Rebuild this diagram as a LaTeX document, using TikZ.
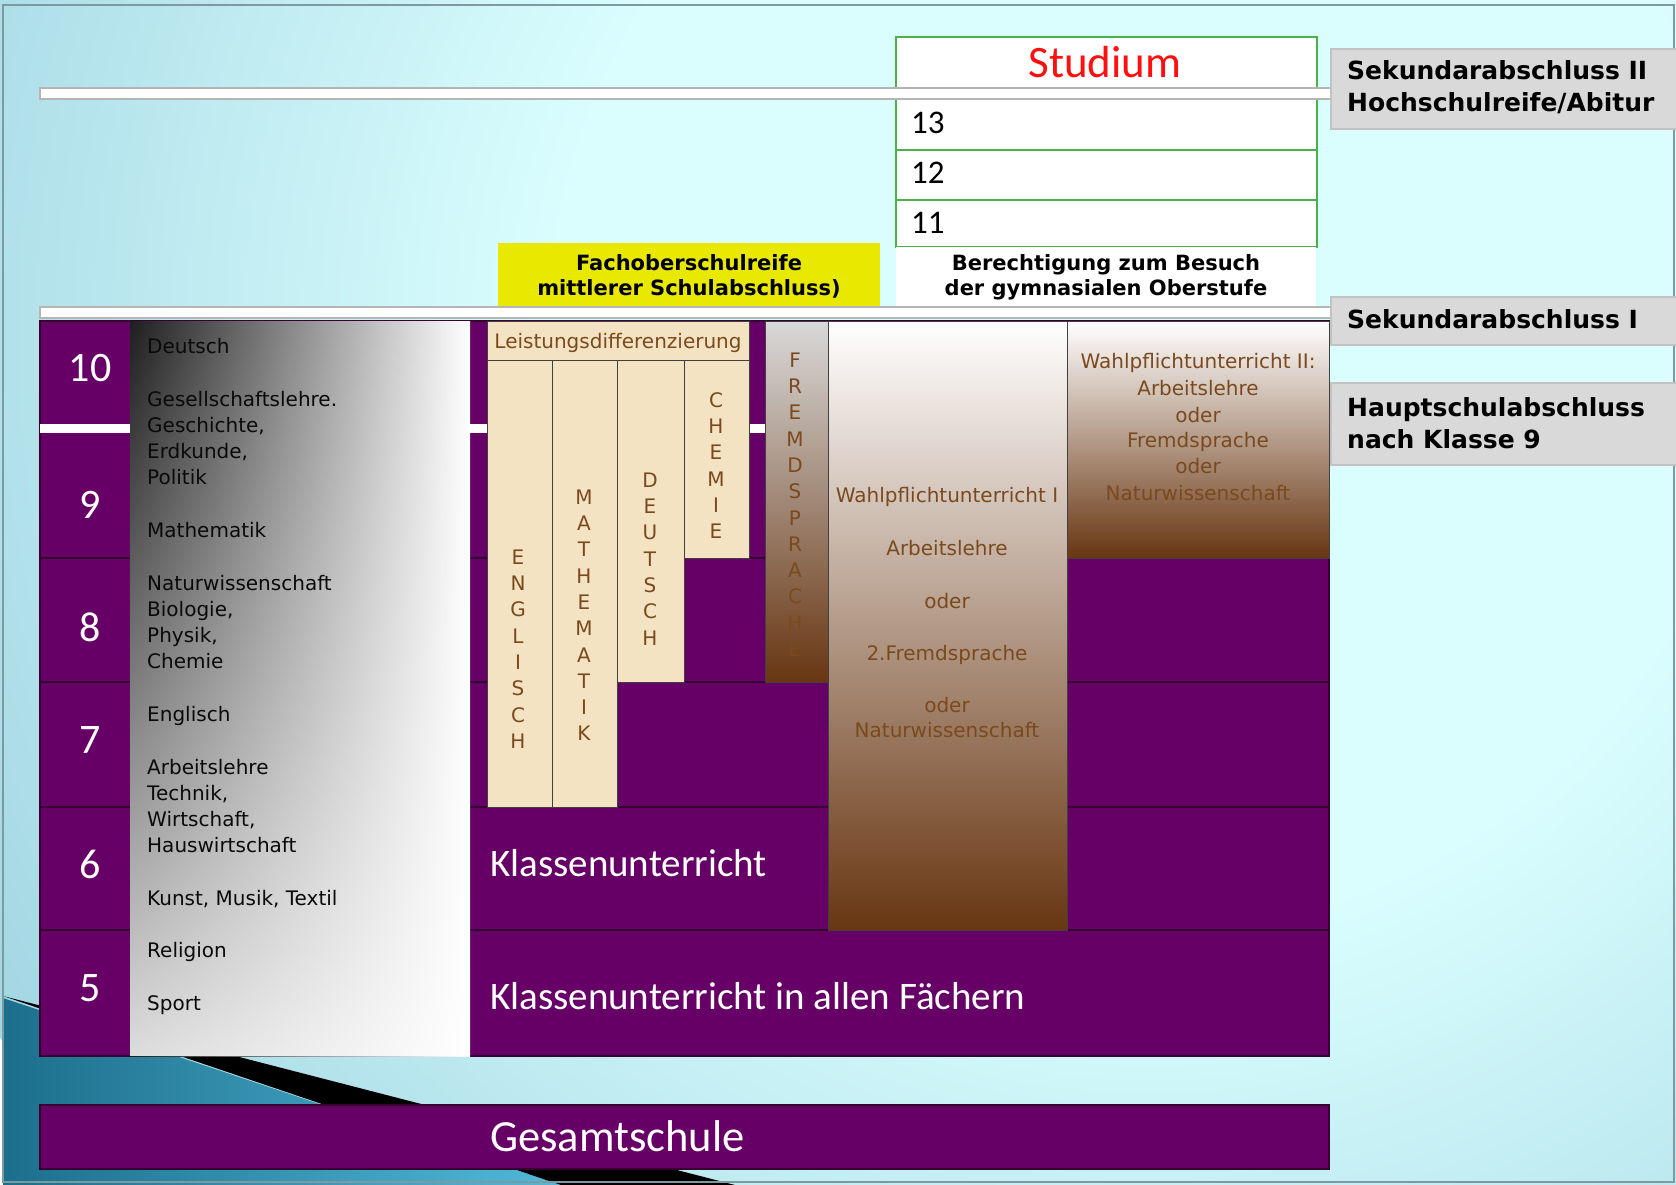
\documentclass[tikz,border=0pt]{standalone}
\usepackage{fontspec}
\setmainfont{DejaVu Sans}
\newfontfamily\calfont{Carlito}
\usetikzlibrary{fadings}
\definecolor{bgin}{HTML}{DAFEFE}
\definecolor{bgout}{HTML}{A2D6E3}
\definecolor{purp}{HTML}{660066}
\definecolor{purpline}{HTML}{35002F}
\definecolor{brownt}{HTML}{7A4A1E}
\definecolor{brownb}{HTML}{683612}
\definecolor{midg}{HTML}{D0C8C8}
\definecolor{beige}{HTML}{F3E3C2}
\definecolor{lblgray}{HTML}{D9D9D9}
\definecolor{lbledge}{HTML}{C2C2C2}
\definecolor{grn}{HTML}{4DB04D}
\definecolor{yel}{HTML}{E8E800}
\definecolor{teala}{HTML}{1C6F8C}
\definecolor{tealb}{HTML}{52B9D9}
\definecolor{framec}{HTML}{7D9AA3}
\definecolor{baredge}{HTML}{B5B5B5}
\definecolor{studred}{HTML}{FF1010}
\definecolor{subjdark}{HTML}{0A0A0A}
\pgfdeclareradialshading{bgshade}{\pgfpoint{0bp}{0bp}}{color(0bp)=(bgin); color(11bp)=(bgin); color(25bp)=(bgout); color(50bp)=(bgout)}
\tikzfading[name=subjfade, top color=transparent!100, bottom color=transparent!15]
\begin{document}
\begin{tikzpicture}[x=1pt,y=-1pt,
  rect/.style={rectangle, inner sep=0pt, outer sep=0pt, anchor=center},
  whitebar/.style={rect, fill=white, draw=baredge, line width=1.5pt},
  lblbox/.style={rect, fill=lblgray, draw=lbledge, line width=1.5pt},
  rowline/.style={draw=purpline, line width=2pt},
  colbox/.style={rect, draw={black!75}, line width=1pt},
  beigebox/.style={colbox, fill=beige},
  subj/.style={anchor=west, font=\fontsize{20pt}{24pt}\selectfont, text=subjdark, inner sep=0pt, text height=15pt, text depth=4pt},
  brownc/.style={anchor=center, font=\fontsize{20pt}{24pt}\selectfont, text=brownt, inner sep=0pt, text height=15pt, text depth=4pt},
  vlet/.style={anchor=center, font=\fontsize{20pt}{24pt}\selectfont, text=brownt, inner sep=0pt},
  num/.style={anchor=center, font=\calfont\fontsize{42pt}{48pt}\selectfont, text=white, inner sep=0pt, text height=26.5pt, text depth=0pt},
  bigw/.style={anchor=west, font=\calfont\fontsize{39pt}{44pt}\selectfont, text=white, inner sep=0pt, text height=29pt, text depth=6pt},
  lbltext/.style={anchor=west, font=\bfseries\fontsize{25pt}{30pt}\selectfont, inner sep=0pt, text height=18.75pt, text depth=5pt},
  boldc/.style={anchor=center, font=\bfseries\fontsize{21pt}{25pt}\selectfont, inner sep=0pt, text height=15.75pt, text depth=4pt},
  rownr/.style={anchor=west, font=\calfont\fontsize{33pt}{38pt}\selectfont, inner sep=0pt, text height=21pt, text depth=0pt}
]
\useasboundingbox (0,0) rectangle (1676,1185);
% background
\begin{scope}
\clip (0,0) rectangle (1676,1185);
\shade[shading=bgshade] (1150,330) circle (1350);
\shade[left color=teala, right color=tealb] (3,998) -- (561,1185) -- (3,1185) -- cycle;
\fill[black] (3,996) -- (735,1185) -- (561,1185) -- cycle;
\end{scope}
\draw[framec, line width=2pt] (3,5) rectangle (1674,1182);

% upper part
\node[rect, fill=white, draw=grn, line width=1.5pt, minimum width=421pt, minimum height=210pt] (studbox) at (1106.5,142) {};
\draw[grn, line width=1.5pt] (896,150) -- (1317,150);
\draw[grn, line width=1.5pt] (896,200) -- (1317,200);
\node[whitebar, minimum width=1291pt, minimum height=11pt] (bar1) at (685.5,93.5) {};
\node[anchor=center, font=\calfont\fontsize{45pt}{50pt}\selectfont, text=studred, inner sep=0pt, text height=29pt, text depth=0pt] (studium) at (1105,63) {Studium};
\node[rownr] (r13) at (911,123) {13};
\node[rownr] (r12) at (911,173) {12};
\node[rownr] (r11) at (911,223) {11};

\node[rect, fill=yel, minimum width=382pt, minimum height=67pt] (yelbox) at (689,276.5) {};
\node[rect, fill=white, minimum width=420pt, minimum height=63pt] (berbox) at (1106,278.5) {};
\node[boldc] (fos1) at (689,265) {Fachoberschulreife};
\node[boldc] (fos2) at (689,290) {mittlerer Schulabschluss)};
\node[boldc] (ber1) at (1106,265) {Berechtigung zum Besuch};
\node[boldc] (ber2) at (1106,290) {der gymnasialen Oberstufe};
\node[whitebar, minimum width=1291pt, minimum height=11pt] (bar2) at (685.5,312.5) {};

% labels
\node[lblbox, minimum width=347pt, minimum height=80pt] (sek2box) at (1504.5,89) {};
\node[lblbox, minimum width=347pt, minimum height=48pt] (sek1box) at (1504.5,321) {};
\node[lblbox, minimum width=347pt, minimum height=82pt] (hauptbox) at (1504.5,424) {};
\node[lbltext] (sek2a) at (1347,73) {Sekundarabschluss II};
\node[lbltext] (sek2b) at (1347,105) {Hochschulreife/Abitur};
\node[lbltext] (sek1) at (1347,322) {Sekundarabschluss I};
\node[lbltext] (haupta) at (1347,410) {Hauptschulabschluss};
\node[lbltext] (hauptb) at (1347,442) {nach Klasse 9};

% grid
\node[rect, fill=purp, draw=purpline, line width=1.5pt, minimum width=1289pt, minimum height=735pt] (grid) at (684.5,688.5) {};
\foreach \yy in {558,682,807,930} \draw[rowline] (40,\yy) -- (1329,\yy);
\node[rect, fill=white, minimum width=1289pt, minimum height=9pt] (bar3) at (684.5,428.5) {};

% subjects column
\node[rect, left color=black!88, middle color=black!42, right color=white, minimum width=340pt, minimum height=735pt] (subjcol) at (300,688.5) {};
\fill[white, path fading=subjfade] (subjcol.north west) rectangle (subjcol.south east);
\node[subj] (s0) at (147,348) {Deutsch};
\node[subj] (s2) at (147,400.6) {Gesellschaftslehre.};
\node[subj] (s3) at (147,426.8) {Geschichte,};
\node[subj] (s4) at (147,453.1) {Erdkunde,};
\node[subj] (s5) at (147,479.4) {Politik};
\node[subj] (s7) at (147,532) {Mathematik};
\node[subj] (s9) at (147,584.5) {Naturwissenschaft};
\node[subj] (s10) at (147,610.8) {Biologie,};
\node[subj] (s11) at (147,637.1) {Physik,};
\node[subj] (s12) at (147,663.4) {Chemie};
\node[subj] (s14) at (147,715.9) {Englisch};
\node[subj] (s16) at (147,768.5) {Arbeitslehre};
\node[subj] (s17) at (147,794.8) {Technik,};
\node[subj] (s18) at (147,821) {Wirtschaft,};
\node[subj] (s19) at (147,847.3) {Hauswirtschaft};
\node[subj] (s21) at (147,899.9) {Kunst, Musik, Textil};
\node[subj] (s23) at (147,952.4) {Religion};
\node[subj] (s25) at (147,1005) {Sport};

% Leistungsdifferenzierung
\node[beigebox, minimum width=262pt, minimum height=39pt] (header) at (618,340.5) {};
\node[brownc] (headtext) at (618,343) {Leistungsdifferenzierung};
\node[beigebox, minimum width=65pt, minimum height=447pt] (engl) at (519.5,583.5) {};
\node[beigebox, minimum width=65pt, minimum height=447pt] (math) at (584.5,583.5) {};
\node[beigebox, minimum width=67pt, minimum height=322pt] (deut) at (650.5,521) {};
\node[beigebox, minimum width=65pt, minimum height=198pt] (chem) at (716.5,459) {};
\foreach \l [count=\i from 0] in {E,N,G,L,I,S,C,H}
  \node[vlet] (en\i) at (518,{557+26.3*\i}) {\l};
\foreach \l [count=\i from 0] in {M,A,T,H,E,M,A,T,I,K}
  \node[vlet] (ma\i) at (584,{497+26.3*\i}) {\l};
\foreach \l [count=\i from 0] in {D,E,U,T,S,C,H}
  \node[vlet] (de\i) at (650,{480+26.3*\i}) {\l};
\foreach \l [count=\i from 0] in {C,H,E,M,I,E}
  \node[vlet] (ch\i) at (716,{400+26.3*\i}) {\l};

% Fremdsprache
\node[colbox, top color={black!15}, bottom color=brownb, minimum width=63pt, minimum height=361pt] (fremd) at (796.5,501.5) {};
\foreach \l [count=\i from 0] in {F,R,E,M,D,S,P,R,A,C,H,E}
  \node[vlet] (fr\i) at (795,{360+26.3*\i}) {\l};

% Wahlpflicht I
\node[colbox, top color=white, middle color=midg, bottom color=brownb, minimum width=239pt, minimum height=609pt] (wahl1) at (947.5,625.5) {};
\node[brownc] (w1a) at (947,497) {Wahlpflichtunterricht I};
\node[brownc] (w1b) at (947,550) {Arbeitslehre};
\node[brownc] (w1c) at (947,603) {oder};
\node[brownc] (w1d) at (947,655) {2.Fremdsprache};
\node[brownc] (w1e) at (947,707) {oder};
\node[brownc] (w1f) at (947,732) {Naturwissenschaft};

% Wahlpflicht II
\node[colbox, top color=white, middle color=midg, bottom color=brownb, minimum width=262pt, minimum height=237pt] (wahl2) at (1198,439.5) {};
\node[brownc] (w2a) at (1198,363) {Wahlpflichtunterricht II:};
\node[brownc] (w2b) at (1198,390) {Arbeitslehre};
\node[brownc] (w2c) at (1198,417) {oder};
\node[brownc] (w2d) at (1198,442) {Fremdsprache};
\node[brownc] (w2e) at (1198,468) {oder};
\node[brownc] (w2f) at (1198,495) {Naturwissenschaft};

% numbers
\node[num] (n10) at (90,368) {10};
\node[num] (n9) at (90,505) {9};
\node[num] (n8) at (90,628) {8};
\node[num] (n7) at (90,740) {7};
\node[num] (n6) at (90,865) {6};
\node[num] (n5) at (90,988) {5};

\node[bigw] (klass) at (490,865) {Klassenunterricht};
\node[bigw] (klassall) at (490,998) {Klassenunterricht in allen Fächern};

% Gesamtschule
\node[rect, fill=purp, draw=purpline, line width=1.5pt, minimum width=1289pt, minimum height=64pt] (gesbar) at (684.5,1137) {};
\node[anchor=west, font=\calfont\fontsize{44.5pt}{50pt}\selectfont, text=white, inner sep=0pt, text height=33pt, text depth=7pt] (gestext) at (490,1138) {Gesamtschule};
\end{tikzpicture}
\end{document}
